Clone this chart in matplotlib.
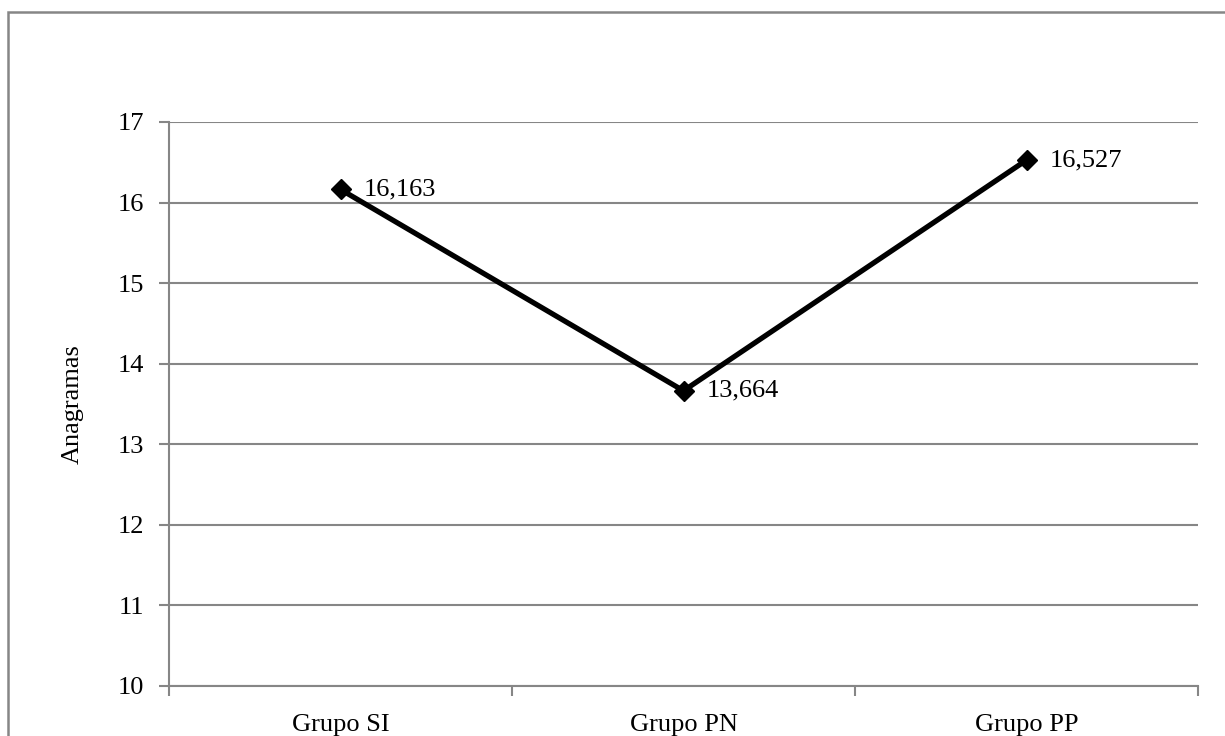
import matplotlib

matplotlib.use("Agg")
import matplotlib.pyplot as plt
from matplotlib.patches import Rectangle

groups = ["Grupo SI", "Grupo PN", "Grupo PP"]
values = [16.163, 13.664, 16.527]
value_labels = ["16,163", "13,664", "16,527"]
y_ticks = [10, 11, 12, 13, 14, 15, 16, 17]

plt.rcParams["font.family"] = ["Liberation Serif", "DejaVu Serif"]
grey = "#868686"

fig = plt.figure(figsize=(12.25, 7.36), dpi=100)
ax = fig.add_axes([169 / 1225, 50 / 736, (1198 - 169) / 1225, (686 - 122) / 736])

# chart area frame (left and top edges visible)
fig.patches.append(Rectangle((8 / 1225, -0.1), 1.2, (724 / 736) + 0.1,
                             transform=fig.transFigure, fill=False,
                             edgecolor=grey, linewidth=1.8))

x = list(range(len(groups)))
ax.plot(x, values, color="black", linewidth=3.8, marker="D", markersize=10,
        zorder=3)
for xi, v, lab in zip(x, values, value_labels):
    ax.annotate(lab, (xi, v), xytext=(17, 0), textcoords="offset points",
                ha="left", va="center", fontsize=19)

ax.set_xlim(-0.5, 2.5)
ax.set_ylim(10, 17)
ax.set_yticks(y_ticks)
ax.set_xticks([-0.5, 0.5, 1.5, 2.5])
ax.set_xticklabels([])
ax.set_xticks(x, minor=True)
ax.set_xticklabels(groups, minor=True)
ax.tick_params(axis="x", which="minor", length=0, pad=20, labelsize=19)
ax.tick_params(axis="x", which="major", length=7, color=grey, width=1.5,
               direction="out")
ax.tick_params(axis="y", length=7, color=grey, width=1.5, labelsize=19, pad=11)
ax.yaxis.grid(True, color=grey, linewidth=1.5)
ax.set_axisbelow(True)

for side in ["top", "right"]:
    ax.spines[side].set_visible(False)
for side in ["left", "bottom"]:
    ax.spines[side].set_color(grey)
    ax.spines[side].set_linewidth(1.5)

ax.set_ylabel("Anagramas", fontsize=19, labelpad=24)

plt.savefig("out.png", dpi=100)
plt.close()
